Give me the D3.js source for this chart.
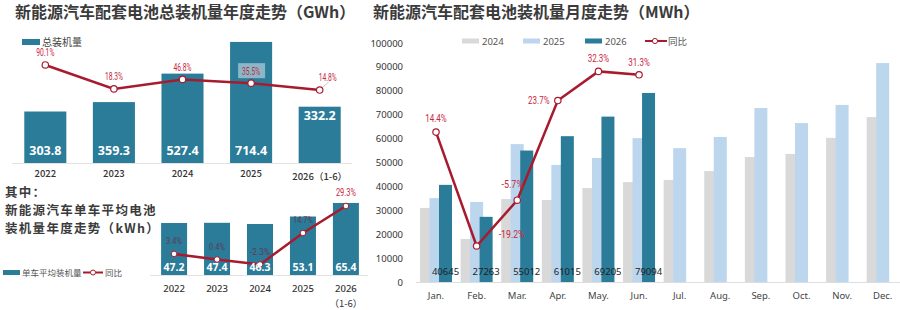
<!DOCTYPE html>
<html>
<head>
<meta charset="utf-8">
<script src="https://cdn.jsdelivr.net/npm/d3@7"></script>
<style>
  body { margin: 0; background: #fff; }
  svg { display: block; }
  text { font-family: "Noto Sans", "Noto Sans CJK SC", sans-serif; }
  .cjk { font-family: "Noto Sans CJK SC", "Noto Sans", sans-serif; }
  .pct { font-family: "Roboto", "Liberation Sans", sans-serif; }
</style>
</head>
<body>
<div id="chart"></div>
<script>
// annual total
const annualYears = ["2022", "2023", "2024", "2025", "2026（1-6）"];
const annualTotal = [303.8, 359.3, 527.4, 714.4, 332.2];
const annualYoy = [90.1, 18.3, 46.8, 35.5, 14.8];

// average per vehicle
const avgYears = ["2022", "2023", "2024", "2025", "2026"];
const avgKwh = [47.2, 47.4, 46.3, 53.1, 65.4];
const avgYoy = [3.4, 0.4, -2.3, 14.7, 29.3];

// monthly
const months = ["Jan.", "Feb.", "Mar.", "Apr.", "May.", "Jun.", "Jul.", "Aug.", "Sep.", "Oct.", "Nov.", "Dec."];
const seriesNames = ["2024", "2025", "2026"];
const mwh2024 = [31000, 18000, 34700, 34300, 39300, 41800, 42700, 46400, 52300, 53600, 60300, 69000];
const mwh2025 = [35100, 33500, 57700, 49000, 51900, 60200, 56000, 60700, 72800, 66500, 74100, 91600];
const mwh2026 = [40645, 27263, 55012, 61015, 69205, 79094];
const monthYoy = [14.4, -19.2, -5.7, 23.7, 32.3, 31.3];
const yTicks = [0, 10000, 20000, 30000, 40000, 50000, 60000, 70000, 80000, 90000, 100000];

const teal = "#2b7c99", red = "#a81b2f", labelRed = "#c8283f";
const gray = "#d9d9d9", lightBlue = "#bcd6ee";

const pctText = d => d.toFixed(1) + "%";
// the percent labels use a narrow face in the original
function narrow(sel, perChar) {
  sel.attr("textLength", d => pctText(d).length * perChar)
    .attr("lengthAdjust", "spacingAndGlyphs");
}

const svg = d3.select("#chart").append("svg")
  .attr("width", 900).attr("height", 310);

// ---------- top-left: annual total ----------
svg.append("text").attr("class", "cjk")
  .attr("x", 15).attr("y", 18)
  .attr("font-size", 16).attr("font-weight", "bold").attr("fill", "#3b3b3b")
  .text("新能源汽车配套电池总装机量年度走势（GWh）");

svg.append("rect").attr("x", 22).attr("y", 39).attr("width", 18).attr("height", 6).attr("fill", teal);
svg.append("text").attr("class", "cjk").attr("x", 42).attr("y", 45.5)
  .attr("font-size", 10).attr("fill", "#444").text("总装机量");

const x1 = d3.scaleBand().domain(annualYears).range([11.25, 353.75])
  .paddingInner(0.387).paddingOuter(0.19);
const y1 = d3.scaleLinear().domain([0, 800]).range([163, 163 - 800 / 5.9]);
const y1p = d3.scaleLinear().domain([0, 100]).range([95, 95 - 100 / 3]);

svg.append("line").attr("x1", 12).attr("x2", 352).attr("y1", 163.5).attr("y2", 163.5)
  .attr("stroke", "#e3e3e3");

svg.append("g").selectAll("rect").data(annualTotal).join("rect")
  .attr("x", (d, i) => x1(annualYears[i]))
  .attr("width", x1.bandwidth())
  .attr("y", d => y1(d))
  .attr("height", d => y1(0) - y1(d))
  .attr("fill", teal);

svg.append("g").selectAll("text").data(annualTotal).join("text")
  .attr("x", (d, i) => x1(annualYears[i]) + x1.bandwidth() / 2)
  .attr("y", (d, i) => i === 4 ? y1(d) + 13 : y1(0) - 8)
  .attr("text-anchor", "middle").attr("font-size", 12.5).attr("font-weight", "bold")
  .attr("fill", "#fff").text(d => d.toFixed(1));

svg.append("g").selectAll("text").data(annualYears).join("text")
  .attr("class", "cjk")
  .attr("x", d => x1(d) + x1.bandwidth() / 2)
  .attr("y", (d, i) => i === 4 ? 180 : 177)
  .attr("text-anchor", "middle").attr("font-size", 9.5).attr("fill", "#333")
  .attr("font-weight", 500)
  .text(d => d);

const line1 = d3.line().x((d, i) => x1(annualYears[i]) + x1.bandwidth() / 2).y(d => y1p(d));
svg.append("path").datum(annualYoy).attr("d", line1)
  .attr("fill", "none").attr("stroke", red).attr("stroke-width", 2.5);

// label background for 35.5%
svg.append("rect")
  .attr("x", x1(annualYears[3]) + x1.bandwidth() / 2 - 13).attr("y", y1p(annualYoy[3]) - 20)
  .attr("width", 27).attr("height", 15).attr("fill", "#fff").attr("opacity", 0.45);
// leader for 14.8%
svg.append("line")
  .attr("x1", x1(annualYears[4]) + x1.bandwidth() / 2 + 2).attr("y1", y1p(annualYoy[4]) - 2)
  .attr("x2", x1(annualYears[4]) + x1.bandwidth() / 2 + 9).attr("y2", y1p(annualYoy[4]) - 8)
  .attr("stroke", "#bbb").attr("stroke-width", 0.8);

svg.append("g").selectAll("circle").data(annualYoy).join("circle")
  .attr("cx", (d, i) => x1(annualYears[i]) + x1.bandwidth() / 2)
  .attr("cy", d => y1p(d)).attr("r", 3.2)
  .attr("fill", "#fff").attr("stroke", red).attr("stroke-width", 1.2);

const lab1dx = [0, 0, 0, 0, 8];
svg.append("g").selectAll("text").data(annualYoy).join("text")
  .attr("class", "pct")
  .attr("x", (d, i) => x1(annualYears[i]) + x1.bandwidth() / 2 + lab1dx[i])
  .attr("y", (d, i) => y1p(d) - 12 + (i === 4 ? -1 : 0))
  .attr("dy", "0.35em").attr("text-anchor", "middle")
  .attr("font-size", 10).attr("fill", labelRed)
  .text(pctText)
  .call(narrow, 3.6);

// ---------- bottom-left: average per vehicle ----------
const subTitle = ["其中：", "新能源汽车单车平均电池", "装机量年度走势（kWh）"];
svg.append("g").selectAll("text").data(subTitle).join("text")
  .attr("class", "cjk")
  .attr("x", 5).attr("y", (d, i) => 197 + i * 18.2)
  .attr("font-size", 12.5).attr("font-weight", "bold").attr("fill", "#3b3b3b")
  .attr("letter-spacing", 1.3)
  .text(d => d);

const x2 = d3.scaleBand().domain(avgYears).range([152.5, 367.5])
  .paddingInner(0.395).paddingOuter(0.2);
const y2 = d3.scaleLinear().domain([0, 70]).range([275, 275 - 70 / 0.908]);
const y2p = d3.scaleLinear().domain([0, 30]).range([260.2, 260.2 - 30 * 1.85]);
const cx2 = (i) => x2(avgYears[i]) + x2.bandwidth() / 2;

svg.append("line").attr("x1", 150).attr("x2", 368).attr("y1", 275.5).attr("y2", 275.5)
  .attr("stroke", "#e3e3e3");

svg.append("g").selectAll("rect").data(avgKwh).join("rect")
  .attr("x", (d, i) => x2(avgYears[i]))
  .attr("width", x2.bandwidth())
  .attr("y", d => y2(d))
  .attr("height", d => y2(0) - y2(d))
  .attr("fill", teal);

svg.append("g").selectAll("text").data(avgYoy).join("text")
  .attr("class", "pct")
  .attr("x", (d, i) => cx2(i))
  .attr("y", (d, i) => y2p(d) - 13)
  .attr("dy", "0.35em").attr("text-anchor", "middle")
  .attr("font-size", (d, i) => i === 4 ? 10 : 9)
  .attr("fill", (d, i) => i === 4 ? labelRed : "#6e2444")
  .attr("opacity", (d, i) => i === 4 ? 1 : 0.75)
  .text(pctText)
  .call(narrow, 4);

const line2 = d3.line().x((d, i) => cx2(i)).y(d => y2p(d));
svg.append("path").datum(avgYoy).attr("d", line2)
  .attr("fill", "none").attr("stroke", red).attr("stroke-width", 2.5);
svg.append("g").selectAll("circle").data(avgYoy).join("circle")
  .attr("cx", (d, i) => cx2(i)).attr("cy", d => y2p(d)).attr("r", 2.8)
  .attr("fill", "#fff").attr("stroke", red).attr("stroke-width", 1);

svg.append("g").selectAll("text").data(avgKwh).join("text")
  .attr("x", (d, i) => cx2(i)).attr("y", 271)
  .attr("text-anchor", "middle").attr("font-size", 10.5).attr("font-weight", "bold")
  .attr("fill", "#fff").text(d => d.toFixed(1));

svg.append("g").selectAll("text").data(avgYears).join("text")
  .attr("x", (d, i) => cx2(i)).attr("y", 292)
  .attr("text-anchor", "middle").attr("font-size", 9.5).attr("fill", "#333").attr("font-weight", 500)
  .text(d => d);
svg.append("text").attr("class", "cjk").attr("x", cx2(4)).attr("y", 307)
  .attr("text-anchor", "middle").attr("font-size", 9.5).attr("fill", "#333").text("（1-6）");

// legend
svg.append("rect").attr("x", 3).attr("y", 270).attr("width", 17).attr("height", 5).attr("fill", teal);
svg.append("text").attr("class", "cjk").attr("x", 22).attr("y", 275.5)
  .attr("font-size", 8.5).attr("fill", "#555").text("单车平均装机量");
svg.append("line").attr("x1", 83).attr("x2", 103).attr("y1", 272.5).attr("y2", 272.5)
  .attr("stroke", red).attr("stroke-width", 2);
svg.append("circle").attr("cx", 93).attr("cy", 272.5).attr("r", 2.5)
  .attr("fill", "#fff").attr("stroke", red);
svg.append("text").attr("class", "cjk").attr("x", 105).attr("y", 275.5)
  .attr("font-size", 8.5).attr("fill", "#555").text("同比");

// ---------- right: monthly ----------
svg.append("text").attr("class", "cjk")
  .attr("x", 373).attr("y", 18)
  .attr("font-size", 16).attr("font-weight", "bold").attr("fill", "#3b3b3b")
  .text("新能源汽车配套电池装机量月度走势（MWh）");

const x3 = d3.scaleBand().domain(months).range([415.7, 903]);
const y3 = d3.scaleLinear().domain([0, 100000]).range([282, 43]);
const y3p = d3.scaleLinear().domain([0, 30]).range([180.9, 180.9 - 30 * 3.39]);
const cx3 = (m) => x3(m) + x3.bandwidth() / 2;
const barW = 13, barStep = 9.5;

const axis = svg.append("g").attr("transform", "translate(405,0)")
  .call(d3.axisLeft(y3).tickValues(yTicks).tickSize(0).tickPadding(2).tickFormat(d3.format("d")));
axis.select(".domain").remove();
axis.selectAll("text").attr("font-size", 9.5).attr("fill", "#333")
  .attr("font-family", "'Noto Sans', sans-serif");

svg.append("line").attr("x1", 416).attr("x2", 900).attr("y1", 282.5).attr("y2", 282.5)
  .attr("stroke", "#dedede");

const monthSeries = [mwh2024, mwh2025, mwh2026];
const seriesColor = [gray, lightBlue, teal];
monthSeries.forEach((vals, s) => {
  svg.append("g").selectAll("rect").data(vals).join("rect")
    .attr("x", (d, i) => cx3(months[i]) - 16 + s * barStep)
    .attr("width", barW)
    .attr("y", d => y3(d))
    .attr("height", d => y3(0) - y3(d))
    .attr("fill", seriesColor[s]);
});

svg.append("g").selectAll("text").data(mwh2026).join("text")
  .attr("x", (d, i) => cx3(months[i]) - 16 + 2 * barStep + barW / 2)
  .attr("y", 275)
  .attr("text-anchor", "middle").attr("font-size", 9.5).attr("fill", "#1e1e1e")
  .text(d => d);

svg.append("g").selectAll("text").data(months).join("text")
  .attr("x", d => cx3(d)).attr("y", 299)
  .attr("text-anchor", "middle").attr("font-size", 9.5).attr("fill", "#444")
  .text(d => d);

const line3 = d3.line().x((d, i) => cx3(months[i])).y(d => y3p(d));
svg.append("path").datum(monthYoy).attr("d", line3)
  .attr("fill", "none").attr("stroke", red).attr("stroke-width", 2.5);
svg.append("g").selectAll("circle").data(monthYoy).join("circle")
  .attr("cx", (d, i) => cx3(months[i])).attr("cy", d => y3p(d)).attr("r", 3.2)
  .attr("fill", "#fff").attr("stroke", red).attr("stroke-width", 1.2);

const lab3dx = [0, 35, -5, -19, 0, 0];
const lab3dy = [-14, -12, -16, 0, -13, -13];
svg.append("g").selectAll("text").data(monthYoy).join("text")
  .attr("class", "pct")
  .attr("x", (d, i) => cx3(months[i]) + lab3dx[i])
  .attr("y", (d, i) => y3p(d) + lab3dy[i])
  .attr("dy", "0.35em").attr("text-anchor", "middle")
  .attr("font-size", 11).attr("fill", labelRed)
  .text(pctText)
  .call(narrow, 4.3);

// legend
const legX = [462, 523, 585];
seriesNames.forEach((name, s) => {
  svg.append("rect").attr("x", legX[s]).attr("y", 38.5).attr("width", 17).attr("height", 5)
    .attr("fill", seriesColor[s]);
  svg.append("text").attr("x", legX[s] + 20).attr("y", 44.5)
    .attr("font-size", 9.5).attr("fill", "#555").text(name);
});
svg.append("line").attr("x1", 645).attr("x2", 667).attr("y1", 41).attr("y2", 41)
  .attr("stroke", red).attr("stroke-width", 2);
svg.append("circle").attr("cx", 655).attr("cy", 41).attr("r", 2.6)
  .attr("fill", "#fff").attr("stroke", red);
svg.append("text").attr("class", "cjk").attr("x", 668).attr("y", 44.5)
  .attr("font-size", 9.5).attr("fill", "#555").text("同比");
</script>
</body>
</html>
